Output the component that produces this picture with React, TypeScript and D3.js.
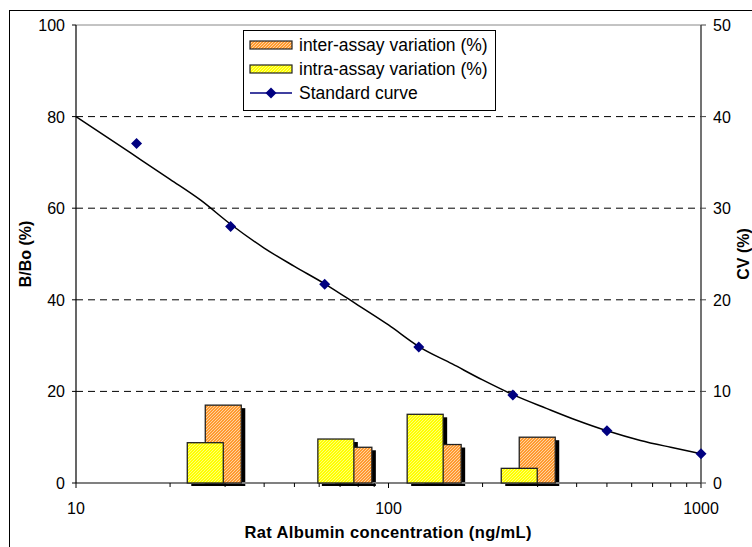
import React from 'react';
import * as d3 from 'd3';

// standard curve points (B/Bo %)
const stdConc = [15.625, 31.25, 62.5, 125, 250, 500, 1000];
const stdBBo = [74.1, 56.0, 43.4, 29.7, 19.2, 11.4, 6.4];

// fitted curve
const fitConc = [10, 15, 20, 25, 31.25, 40, 50, 62.5, 80, 100, 125, 160, 200, 250, 320, 400, 500, 640, 800, 1000];
const fitBBo = [80, 72, 66.3, 61.8, 56.5, 51.3, 47.3, 43.5, 38.8, 34.5, 29.8, 26, 22.5, 19.3, 16.3, 13.7, 11.4, 9.3, 7.8, 6.4];

// CV bars (secondary axis)
const cvConc = [27.7, 72.5, 140, 280];
const intraCV = [4.4, 4.8, 7.5, 1.6];
const interCV = [8.5, 3.9, 4.2, 5.0];

const leftTicks = [0, 20, 40, 60, 80, 100];
const rightTicks = [0, 10, 20, 30, 40, 50];
const xTicks = [10, 100, 1000];
const legendLabels = ['inter-assay variation (%)', 'intra-assay variation (%)', 'Standard curve'];

const W = 752, H = 547;
const m = { left: 76, right: 701, top: 25, bottom: 483 };
const font = '"Liberation Sans", Arial, sans-serif';

const App = () => {
    const x = d3.scaleLog().domain([10, 1000]).range([m.left, m.right]);
    const y = d3.scaleLinear().domain([0, 100]).range([m.bottom, m.top]);
    const y2 = d3.scaleLinear().domain([0, 50]).range([m.bottom, m.top]);

    const minor = d3.range(1, 3).flatMap(e => d3.range(2, 10).map(k => k * Math.pow(10, e)));

    const line = d3.line<number>()
        .x((d, i) => x(fitConc[i]))
        .y(d => y(d))
        .curve(d3.curveMonotoneX);

    const diamond = (cx, cy, r = 5.5) =>
        `M${cx},${cy - r}L${cx + r},${cy}L${cx},${cy + r}L${cx - r},${cy}Z`;

    const bw = 36;
    const bars = cvConc.map((c, i) => {
        const cx = x(c);
        return {
            yel: { x: cx - 9 - bw / 2, y: y2(intraCV[i]), h: m.bottom - y2(intraCV[i]) },
            org: { x: cx + 9 - bw / 2, y: y2(interCV[i]), h: m.bottom - y2(interCV[i]) }
        };
    });

    return (
        <svg width={W} height={H} style={{ position: 'absolute', left: 0, top: 0, background: '#fff' }}>
            <defs>
                <pattern id="pOrg" patternUnits="userSpaceOnUse" width="3" height="3">
                    <rect width="3" height="3" fill="#FF9A2E" />
                    <path d="M-1,1L1,-1M0,3L3,0M2,4L4,2" stroke="#fff" strokeWidth="0.8" opacity="0.7" />
                </pattern>
                <pattern id="pYel" patternUnits="userSpaceOnUse" width="3" height="3">
                    <rect width="3" height="3" fill="#FFFF00" />
                    <path d="M-1,1L1,-1M0,3L3,0M2,4L4,2" stroke="#fff" strokeWidth="0.8" opacity="0.6" />
                </pattern>
            </defs>

            <rect x={9.5} y={10.5} width={800} height={600} fill="none" stroke="#000" strokeWidth={1} />

            {/* gridlines */}
            {leftTicks.filter(t => t > 0 && t < 100).map(t => (
                <line key={t} x1={m.left} x2={m.right} y1={y(t)} y2={y(t)}
                      stroke="#000" strokeWidth={1} strokeDasharray="7,5" />
            ))}
            <line x1={m.left} x2={m.right} y1={y(100)} y2={y(100)} stroke="#888" strokeWidth={1} />

            {/* bar shadows */}
            {bars.map((b, i) => (
                <g key={'s' + i} fill="#000">
                    <rect x={b.yel.x + 4} y={b.yel.y + 3} width={bw} height={b.yel.h} />
                    <rect x={b.org.x + 4} y={b.org.y + 3} width={bw} height={b.org.h} />
                </g>
            ))}

            {/* x axis */}
            <line x1={m.left} x2={m.right} y1={m.bottom} y2={m.bottom} stroke="#808080" strokeWidth={2} />
            {minor.map(t => (
                <line key={t} x1={x(t)} x2={x(t)} y1={m.bottom} y2={m.bottom + 4} stroke="#000" />
            ))}
            {xTicks.map(t => (
                <g key={t}>
                    <line x1={x(t)} x2={x(t)} y1={m.bottom} y2={m.bottom + 5} stroke="#000" />
                    <text x={x(t)} y={m.bottom + 31} textAnchor="middle" fontFamily={font} fontSize={16}>{t}</text>
                </g>
            ))}

            {/* bars */}
            {bars.map((b, i) => (
                <g key={'b' + i} stroke="#222" strokeWidth={1.3}>
                    <rect x={b.org.x} y={b.org.y} width={bw} height={b.org.h} fill="url(#pOrg)" />
                    <rect x={b.yel.x} y={b.yel.y} width={bw} height={b.yel.h} fill="url(#pYel)" />
                </g>
            ))}

            {/* left axis */}
            <line x1={m.left} x2={m.left} y1={m.top} y2={m.bottom} stroke="#000" strokeWidth={1.2} />
            {leftTicks.map(t => (
                <g key={t}>
                    <line x1={m.left - 4} x2={m.left} y1={y(t)} y2={y(t)} stroke="#000" />
                    <text x={m.left - 11} y={y(t) + 6} textAnchor="end" fontFamily={font} fontSize={16}>{t}</text>
                </g>
            ))}

            {/* right axis */}
            <line x1={m.right} x2={m.right} y1={m.top} y2={m.bottom} stroke="#444" strokeWidth={1.5} />
            {rightTicks.map(t => (
                <g key={t}>
                    <line x1={m.right} x2={m.right + 5} y1={y2(t)} y2={y2(t)} stroke="#444" />
                    <text x={m.right + 12} y={y2(t) + 6} textAnchor="start" fontFamily={font} fontSize={16}>{t}</text>
                </g>
            ))}

            {/* standard curve */}
            <path d={line(fitBBo) || ''} fill="none" stroke="#000" strokeWidth={1.5} />
            {stdConc.map((c, i) => (
                <path key={c} d={diamond(x(c), y(stdBBo[i]))} fill="#000080" />
            ))}

            {/* axis titles */}
            <text x={388} y={538} textAnchor="middle" fontFamily={font} fontSize={16.5} fontWeight="bold"
                  textLength={287} lengthAdjust="spacing">Rat Albumin concentration (ng/mL)</text>
            <text transform={`translate(31,${(m.top + m.bottom) / 2}) rotate(-90)`} textAnchor="middle"
                  fontFamily={font} fontSize={16} fontWeight="bold">B/Bo (%)</text>
            <text transform={`translate(749,${(m.top + m.bottom) / 2}) rotate(-90)`} textAnchor="middle"
                  fontFamily={font} fontSize={16} fontWeight="bold">CV (%)</text>

            {/* legend */}
            <g>
                <rect x={243.5} y={30.5} width={252} height={80} fill="#fff" stroke="#000" strokeWidth={1} />
                <rect x={250} y={41} width={42} height={8} fill="url(#pOrg)" stroke="#222" strokeWidth={1.2} />
                <rect x={250} y={65} width={42} height={8} fill="url(#pYel)" stroke="#222" strokeWidth={1.2} />
                <line x1={250} x2={292} y1={93} y2={93} stroke="#000080" strokeWidth={1.5} />
                <path d={diamond(271, 93)} fill="#000080" />
                {legendLabels.map((l, i) => (
                    <text key={l} x={299} y={51 + i * 24} fontFamily={font} fontSize={17.5}>{l}</text>
                ))}
            </g>
        </svg>
    );
};

export default App;
